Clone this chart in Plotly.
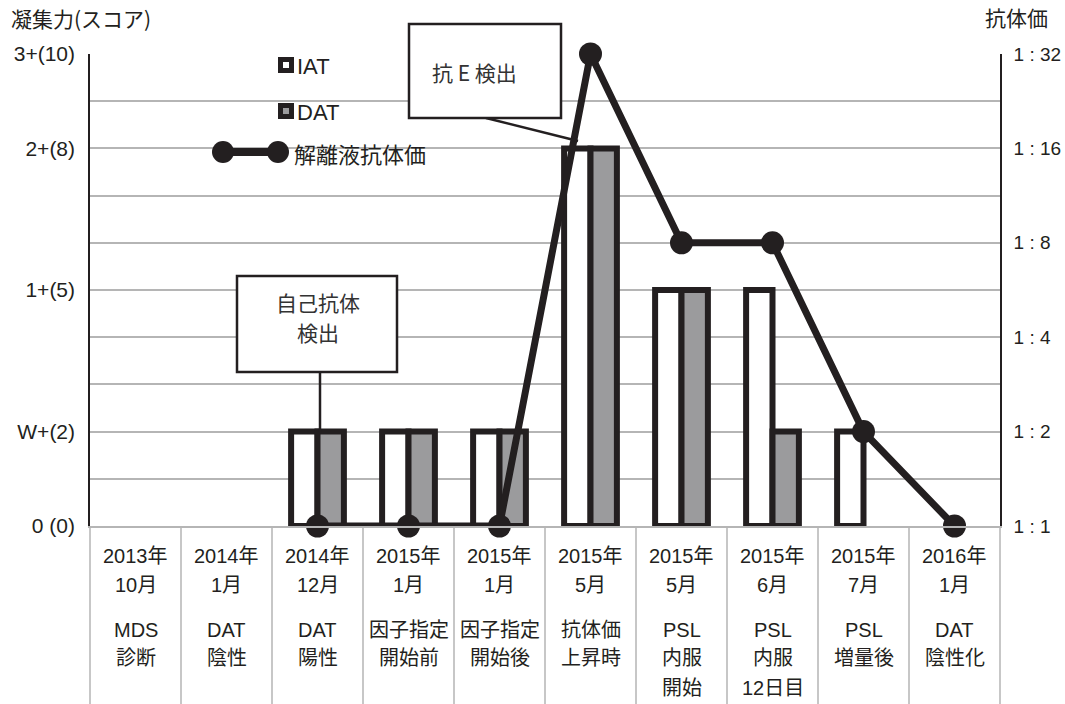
import math
import plotly.graph_objects as go

# ---------------- data ----------------
years = ["2013年", "2014年", "2014年", "2015年", "2015年", "2015年", "2015年", "2015年", "2015年", "2016年"]
months = ["10月", "1月", "12月", "1月", "1月", "5月", "5月", "6月", "7月", "1月"]
desc1 = ["MDS", "DAT", "DAT", "因子指定", "因子指定", "抗体価", "PSL", "PSL", "PSL", "DAT"]
desc2 = ["診断", "陰性", "陽性", "開始前", "開始後", "上昇時", "内服", "内服", "増量後", "陰性化"]
desc3 = ["", "", "", "", "", "", "開始", "12日目", "", ""]

iat_score = [None, None, 2, 2, 2, 8, 5, 5, 2, None]
dat_score = [None, None, 2, 2, 2, 8, 5, 2, None, None]
eluate_titer = [None, None, 1, 1, 1, 32, 8, 8, 2, 1]

score_ticks = list(range(0, 11))
score_labels = ["0 (0)", "", "W+(2)", "", "", "1+(5)", "", "", "2+(8)", "", "3+(10)"]
titer_ticks = [1, 2, 4, 8, 16, 32]
titer_labels = ["1 : 1", "1 : 2", "1 : 4", "1 : 8", "1 : 16", "1 : 32"]

# ---------------- style ----------------
BLACK = "#231f20"
GRID = "#b5b5b5"
GRAYFILL = "#9b9b9d"
LAT = "Liberation Sans, Noto Sans CJK JP, sans-serif"
JP = "Noto Sans CJK JP, sans-serif"

W, H = 1065, 704
L, R, T, B = 90, 1000, 54, 526


def X(px):
    return (px - L) / (R - L)


def Y(py):
    return (B - py) / (B - T)


xs = list(range(len(years)))

fig = go.Figure()
fig.add_trace(go.Bar(
    x=xs, y=iat_score, name="IAT",
    marker=dict(color="white", line=dict(color=BLACK, width=6)),
    showlegend=False, hoverinfo="skip",
))
fig.add_trace(go.Bar(
    x=xs, y=dat_score, name="DAT",
    marker=dict(color=GRAYFILL, line=dict(color=BLACK, width=6)),
    showlegend=False, hoverinfo="skip",
))
fig.add_trace(go.Scatter(
    x=xs, y=eluate_titer, name="解離液抗体価", yaxis="y2",
    mode="lines+markers",
    line=dict(color=BLACK, width=7),
    marker=dict(size=23, color=BLACK),
    cliponaxis=False, showlegend=False, hoverinfo="skip",
))

shapes = []
annotations = []

# category table vertical lines
n = len(years)
for k in range(n + 1):
    shapes.append(dict(type="line", xref="paper", yref="paper",
                       x0=k / n, x1=k / n, y0=Y(526), y1=Y(704),
                       line=dict(color=GRID, width=1.5), layer="below"))

# category labels
rows = [(years, 556), (months, 585), (desc1, 630), (desc2, 658), (desc3, 688)]
for texts, py in rows:
    for i, t in enumerate(texts):
        if not t:
            continue
        annotations.append(dict(x=i, y=Y(py), xref="x", yref="paper", text=t,
                                showarrow=False, xanchor="center", yanchor="middle",
                                font=dict(family=LAT, size=20, color=BLACK)))

# axis titles
annotations.append(dict(x=X(9), y=Y(18), xref="paper", yref="paper", text="凝集力(スコア)",
                        showarrow=False, xanchor="left", yanchor="middle",
                        font=dict(family=JP, size=21, color=BLACK)))
annotations.append(dict(x=X(983), y=Y(17), xref="paper", yref="paper", text="抗体価",
                        showarrow=False, xanchor="left", yanchor="middle",
                        font=dict(family=JP, size=21, color=BLACK)))

# custom legend
for (label, fill, cy) in [("IAT", "white", 65), ("DAT", GRAYFILL, 111)]:
    shapes.append(dict(type="rect", xref="paper", yref="paper",
                       x0=X(278), x1=X(294), y0=Y(cy - 8), y1=Y(cy + 8),
                       fillcolor=BLACK, line=dict(width=0)))
    shapes.append(dict(type="rect", xref="paper", yref="paper",
                       x0=X(283), x1=X(289), y0=Y(cy - 3), y1=Y(cy + 3),
                       fillcolor=fill, line=dict(width=0)))
    annotations.append(dict(x=X(295), y=Y(cy + 1), xref="paper", yref="paper", text=label,
                            showarrow=False, xanchor="left", yanchor="middle",
                            font=dict(family=LAT, size=22, color=BLACK)))

shapes.append(dict(type="line", xref="paper", yref="paper",
                   x0=X(223), x1=X(278), y0=Y(152), y1=Y(152),
                   line=dict(color=BLACK, width=8)))
for cx in (223, 278):
    shapes.append(dict(type="circle", xref="paper", yref="paper",
                       x0=X(cx - 11), x1=X(cx + 11), y0=Y(141), y1=Y(163),
                       fillcolor=BLACK, line=dict(width=0)))
annotations.append(dict(x=X(292), y=Y(153), xref="paper", yref="paper", text="解離液抗体価",
                        showarrow=False, xanchor="left", yanchor="middle",
                        font=dict(family=JP, size=22, color=BLACK)))

# callout 1: 抗E検出
shapes.append(dict(type="line", xref="paper", yref="paper",
                   x0=X(486), x1=X(578), y0=Y(118), y1=Y(141),
                   line=dict(color=BLACK, width=2.5)))
shapes.append(dict(type="rect", xref="paper", yref="paper",
                   x0=X(409), x1=X(561), y0=Y(24), y1=Y(118),
                   fillcolor="white", line=dict(color=BLACK, width=2.5)))
annotations.append(dict(x=X(430), y=Y(72), xref="paper", yref="paper", text="抗 E 検出",
                        showarrow=False, xanchor="left", yanchor="middle",
                        font=dict(family=JP, size=21, color="#333333")))

# callout 2: 自己抗体検出
shapes.append(dict(type="line", xref="paper", yref="paper",
                   x0=X(320), x1=X(320), y0=Y(372), y1=Y(432),
                   line=dict(color=BLACK, width=2.5)))
shapes.append(dict(type="rect", xref="paper", yref="paper",
                   x0=X(237), x1=X(397), y0=Y(276), y1=Y(372),
                   fillcolor="white", line=dict(color=BLACK, width=2.5)))
annotations.append(dict(x=X(318), y=Y(302), xref="paper", yref="paper", text="自己抗体",
                        showarrow=False, xanchor="center", yanchor="middle",
                        font=dict(family=JP, size=21, color="#333333")))
annotations.append(dict(x=X(318), y=Y(332), xref="paper", yref="paper", text="検出",
                        showarrow=False, xanchor="center", yanchor="middle",
                        font=dict(family=JP, size=21, color="#333333")))

fig.update_layout(
    width=W, height=H, autosize=False,
    margin=dict(l=L, r=W - R, t=T, b=H - B, pad=0, autoexpand=False),
    paper_bgcolor="white", plot_bgcolor="white",
    barmode="group", bargap=0.42, bargroupgap=0,
    showlegend=False,
    xaxis=dict(range=[-0.5, n - 0.5], showticklabels=False, showgrid=False, zeroline=False,
               showline=True, linecolor=GRID, linewidth=1.5, ticks="", automargin=False),
    yaxis=dict(range=[0, 10], tickmode="array", tickvals=score_ticks, ticktext=score_labels,
               showgrid=True, gridcolor=GRID, gridwidth=1.5, zeroline=False,
               showline=True, linecolor=BLACK, linewidth=1.5, ticks="",
               ticklabelstandoff=9, automargin=False,
               tickfont=dict(family=LAT, size=21, color=BLACK)),
    yaxis2=dict(type="log", range=[0, math.log10(32)], overlaying="y", side="right",
                tickmode="array", tickvals=titer_ticks, ticktext=titer_labels,
                showgrid=False, zeroline=False, showline=True, linecolor=BLACK, linewidth=1.5,
                ticks="", ticklabelstandoff=8, automargin=False,
                tickfont=dict(family=LAT, size=19, color=BLACK)),
    shapes=shapes,
    annotations=annotations,
)

fig.write_html("out.html")
